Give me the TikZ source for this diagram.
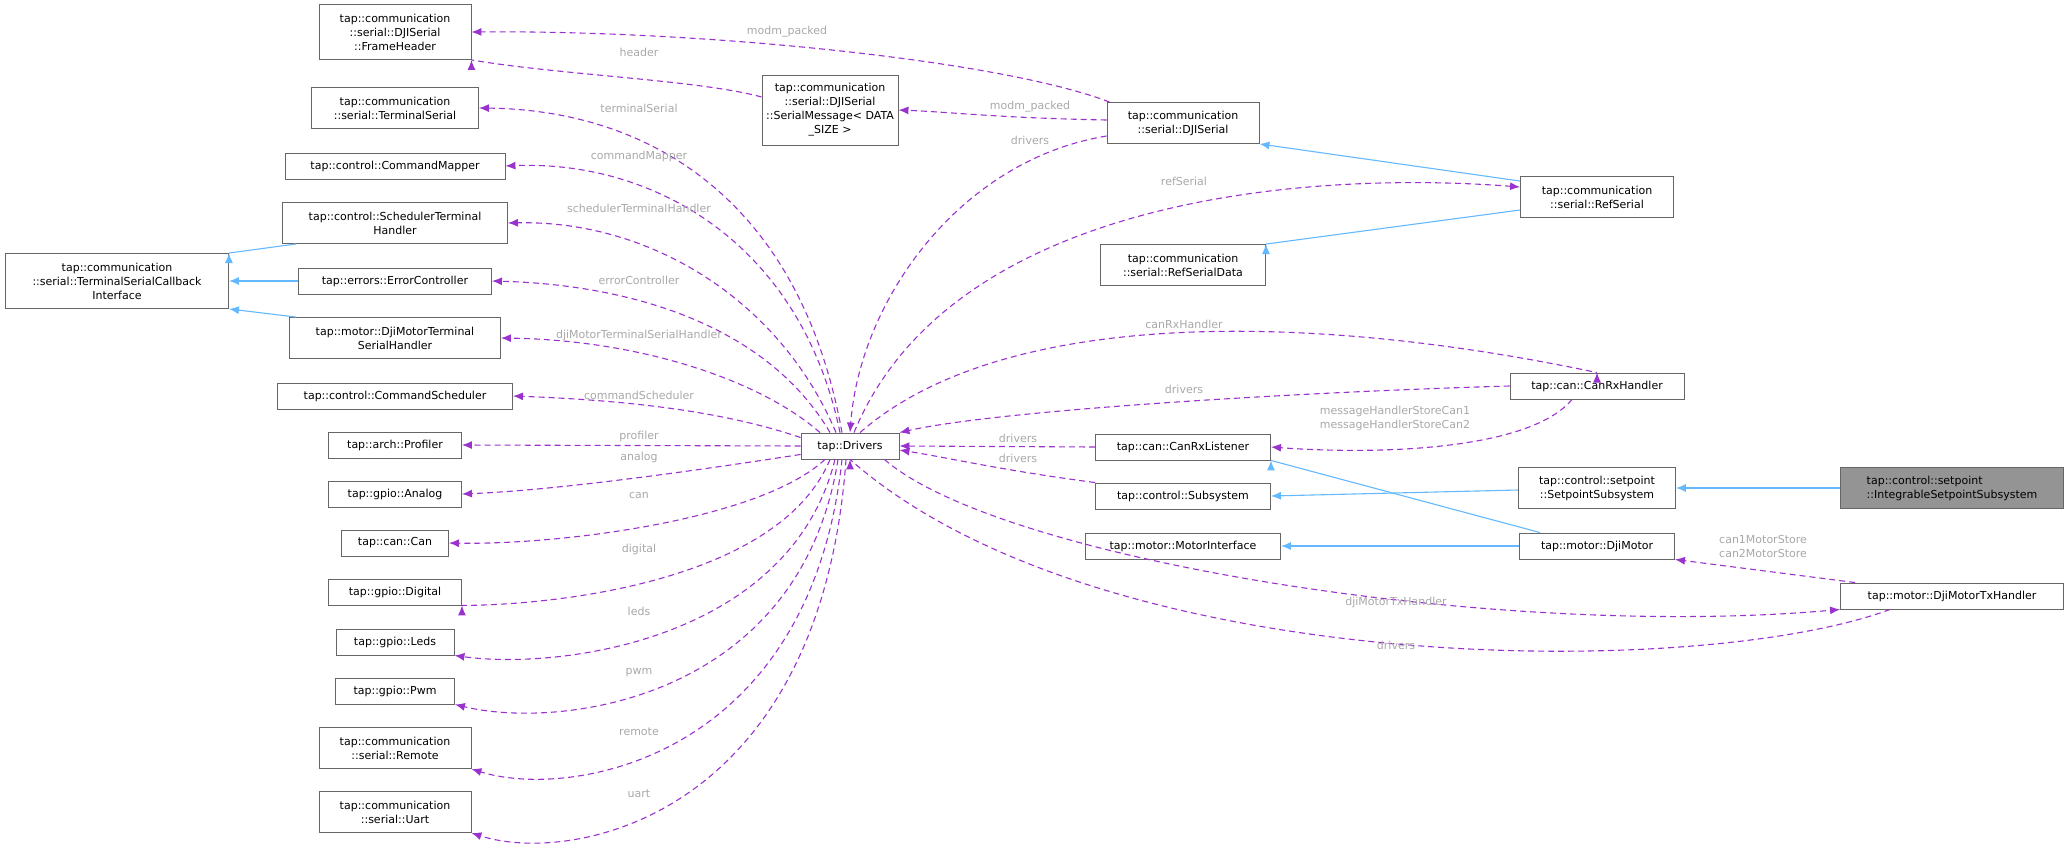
\documentclass[tikz,border=0pt]{standalone}
\usepackage{fontspec}
\setmainfont{DejaVu Sans}
\usetikzlibrary{arrows.meta}
\definecolor{pur}{HTML}{9A32CD}
\definecolor{blu}{HTML}{63B8FF}
\definecolor{lab}{HTML}{A8A8A8}
\tikzset{
  cls/.style={draw=black!60, line width=0.9pt, fill=white, inner sep=2pt, align=center, font=\fontsize{11}{14}\selectfont},
  uses/.style={pur, line width=1.1pt, dash pattern=on 6pt off 4pt, -{Latex[length=10pt,width=8pt]}},
  inh/.style={blu, line width=1.1pt, -{Latex[length=10pt,width=8pt]}},
  elab/.style={text=lab, font=\fontsize{11}{14}\selectfont, align=center, inner sep=0pt}
}
\begin{document}
\begin{tikzpicture}[x=1pt,y=-1pt]
\useasboundingbox (0,0) rectangle (2068,852);
% nodes
\node[cls, minimum width=152, minimum height=55] (fh) at (395,32) {tap::communication\\::serial::DJISerial\\::FrameHeader};
\node[cls, minimum width=167, minimum height=41] (ts) at (395,108) {tap::communication\\::serial::TerminalSerial};
\node[cls, minimum width=220, minimum height=26] (cm) at (395,166) {tap::control::CommandMapper};
\node[cls, minimum width=225, minimum height=41] (sth) at (395,223) {tap::control::SchedulerTerminal\\Handler};
\node[cls, minimum width=193, minimum height=26] (ec) at (395,281) {tap::errors::ErrorController};
\node[cls, minimum width=211, minimum height=41] (dmts) at (395,338) {tap::motor::DjiMotorTerminal\\SerialHandler};
\node[cls, minimum width=235, minimum height=26] (cs) at (395,396) {tap::control::CommandScheduler};
\node[cls, minimum width=223, minimum height=55] (tsci) at (117,281) {tap::communication\\::serial::TerminalSerialCallback\\Interface};
\node[cls, minimum width=133, minimum height=26] (prof) at (395,445) {tap::arch::Profiler};
\node[cls, minimum width=133, minimum height=26] (ana) at (395,494) {tap::gpio::Analog};
\node[cls, minimum width=107, minimum height=26] (can) at (395,543) {tap::can::Can};
\node[cls, minimum width=133, minimum height=26] (dig) at (395,592) {tap::gpio::Digital};
\node[cls, minimum width=118, minimum height=26] (leds) at (395,642) {tap::gpio::Leds};
\node[cls, minimum width=119, minimum height=26] (pwm) at (395,691) {tap::gpio::Pwm};
\node[cls, minimum width=152, minimum height=41] (rem) at (395,748) {tap::communication\\::serial::Remote};
\node[cls, minimum width=152, minimum height=41] (uart) at (395,812) {tap::communication\\::serial::Uart};
\node[cls, minimum width=98, minimum height=26] (drv) at (850,446) {tap::Drivers};
\node[cls, minimum width=136, minimum height=70] (sm) at (830,110) {tap::communication\\::serial::DJISerial\\::SerialMessage< DATA\\\_SIZE >};
\node[cls, minimum width=152, minimum height=41] (djs) at (1183,123) {tap::communication\\::serial::DJISerial};
\node[cls, minimum width=153, minimum height=41] (rs) at (1597,197) {tap::communication\\::serial::RefSerial};
\node[cls, minimum width=165, minimum height=41] (rsd) at (1183,265) {tap::communication\\::serial::RefSerialData};
\node[cls, minimum width=174, minimum height=26] (crh) at (1597,386) {tap::can::CanRxHandler};
\node[cls, minimum width=175, minimum height=26] (crl) at (1183,447) {tap::can::CanRxListener};
\node[cls, minimum width=175, minimum height=26] (sub) at (1183,496) {tap::control::Subsystem};
\node[cls, minimum width=195, minimum height=26] (mi) at (1183,546) {tap::motor::MotorInterface};
\node[cls, minimum width=157, minimum height=41] (sps) at (1597,488) {tap::control::setpoint\\::SetpointSubsystem};
\node[cls, minimum width=155, minimum height=26] (dm) at (1597,546) {tap::motor::DjiMotor};
\node[cls, minimum width=223, minimum height=41, fill=black!42, align=left] (iss) at (1952,488) {tap::control::setpoint\\::IntegrableSetpointSubsystem};
\node[cls, minimum width=223, minimum height=26] (dtx) at (1952,596) {tap::motor::DjiMotorTxHandler};
\coordinate (dtop) at (850,433);
% inheritance
\draw[inh] (rs.north west) ++(0,5) -- (djs.south east);
\draw[inh] (rs.west) ++(0,13) -- (rsd.north east) ++(0,0);
\draw[inh] (sth.south west) ++(14,0) -- (tsci.north east) ++(0,0);
\draw[inh] (ec.west) -- (tsci.east);
\draw[inh] (dmts.north west) ++(7,0) -- (tsci.south east);
\draw[inh] (sps.west) ++(0,2) -- (sub.east);
\draw[inh] (dm.north west) ++(21,0) -- (crl.south east) ++(0,0);
\draw[inh] (dm.west) -- (mi.east);
\draw[inh] (iss.west) -- (sps.east);
% usage edges
\draw[uses] (djs.north west) ++(3,0) .. controls (1000,60) and (700,30) .. (fh.east |- 0,32);
\draw[uses] (sm.west) ++(0,-13) .. controls (700,80) and (560,75) .. (fh.south east) ++(0,0);
\draw[uses] (djs.west) ++(0,-3) .. controls (1000,118) and (950,112) .. (sm.east);
\draw[uses] (djs.west) ++(0,13) .. controls (960,160) and (860,300) .. (drv.north);
\draw[uses] (drv.north) ++(-8,0) .. controls (800,200) and (650,110) .. (ts.east);
\draw[uses] (drv.north) ++(-10,0) .. controls (800,240) and (650,160) .. (cm.east);
\draw[uses] (drv.north) ++(-14,0) .. controls (780,300) and (650,220) .. (sth.east);
\draw[uses] (drv.north) ++(-20,0) .. controls (770,330) and (640,285) .. (ec.east);
\draw[uses] (drv.north) ++(-30,0) .. controls (760,380) and (640,340) .. (dmts.east);
\draw[uses] (drv.north west) ++(0,5) .. controls (720,410) and (620,400) .. (cs.east);
\draw[uses] (drv.west) -- (prof.east);
\draw[uses] (drv.south west) ++(0,-5) .. controls (700,470) and (560,490) .. (ana.east);
\draw[uses] (drv.south) ++(-25,0) .. controls (760,520) and (560,545) .. (can.east);
\draw[uses] (drv.south) ++(-20,0) .. controls (780,580) and (560,605) .. (dig.south east) ++(0,0);
\draw[uses] (drv.south) ++(-15,0) .. controls (790,640) and (560,670) .. (leds.south east);
\draw[uses] (drv.south) ++(-12,0) .. controls (800,700) and (560,730) .. (pwm.south east);
\draw[uses] (drv.south) ++(-8,0) .. controls (810,760) and (570,800) .. (rem.south east);
\draw[uses] (drv.south) ++(-4,0) .. controls (820,820) and (570,865) .. (uart.south east);
\draw[uses] (drv.north) ++(4,0) .. controls (950,200) and (1300,170) .. (rs.west |- 0,187);
\draw[uses] (drv.north) ++(10,0) .. controls (1000,310) and (1300,310) .. (crh.north) ++(0,0);
\draw[uses] (crh.west) .. controls (1300,392) and (1000,410) .. (drv.north east);
\draw[uses] (crh.south) ++(-25,0) .. controls (1530,450) and (1380,455) .. (crl.east);
\draw[uses] (crl.west) -- (drv.east);
\draw[uses] (sub.north west) .. controls (1000,470) and (950,458) .. (drv.east |- 0,450);
\draw[uses] (drv.south east) ++(-15,0) .. controls (1000,560) and (1500,640) .. (dtx.south west);
\draw[uses] (dtx.south west) ++(50,0) .. controls (1700,680) and (1100,680) .. (drv.south) ++(0,0);
\draw[uses] (dtx.north west) ++(15,0) -- (dm.south east);
% labels
\node[elab] (l1) at (787,32) {modm\_packed};
\node[elab] (l2) at (639,52) {header};
\node[elab] (l3) at (1030,107) {modm\_packed};
\node[elab] (l4) at (1030,140) {drivers};
\node[elab] (l5) at (639,108) {terminalSerial};
\node[elab] (l6) at (639,156) {commandMapper};
\node[elab] (l7) at (639,208) {schedulerTerminalHandler};
\node[elab] (l8) at (639,280) {errorController};
\node[elab] (l9) at (639,335) {djiMotorTerminalSerialHandler};
\node[elab] (l10) at (639,395) {commandScheduler};
\node[elab] (l11) at (639,436) {profiler};
\node[elab] (l12) at (639,457) {analog};
\node[elab] (l13) at (639,495) {can};
\node[elab] (l14) at (639,549) {digital};
\node[elab] (l15) at (639,611) {leds};
\node[elab] (l16) at (639,673) {pwm};
\node[elab] (l17) at (639,732) {remote};
\node[elab] (l18) at (639,794) {uart};
\node[elab] (l19) at (1184,181) {refSerial};
\node[elab] (l20) at (1184,324) {canRxHandler};
\node[elab] (l21) at (1184,389) {drivers};
\node[elab] (l22) at (1395,418) {messageHandlerStoreCan1\\messageHandlerStoreCan2};
\node[elab] (l23) at (1018,438) {drivers};
\node[elab] (l24) at (1018,458) {drivers};
\node[elab] (l25) at (1396,602) {djiMotorTxHandler};
\node[elab] (l26) at (1396,645) {drivers};
\node[elab] (l27) at (1763,546) {can1MotorStore\\can2MotorStore};
\end{tikzpicture}
\end{document}
